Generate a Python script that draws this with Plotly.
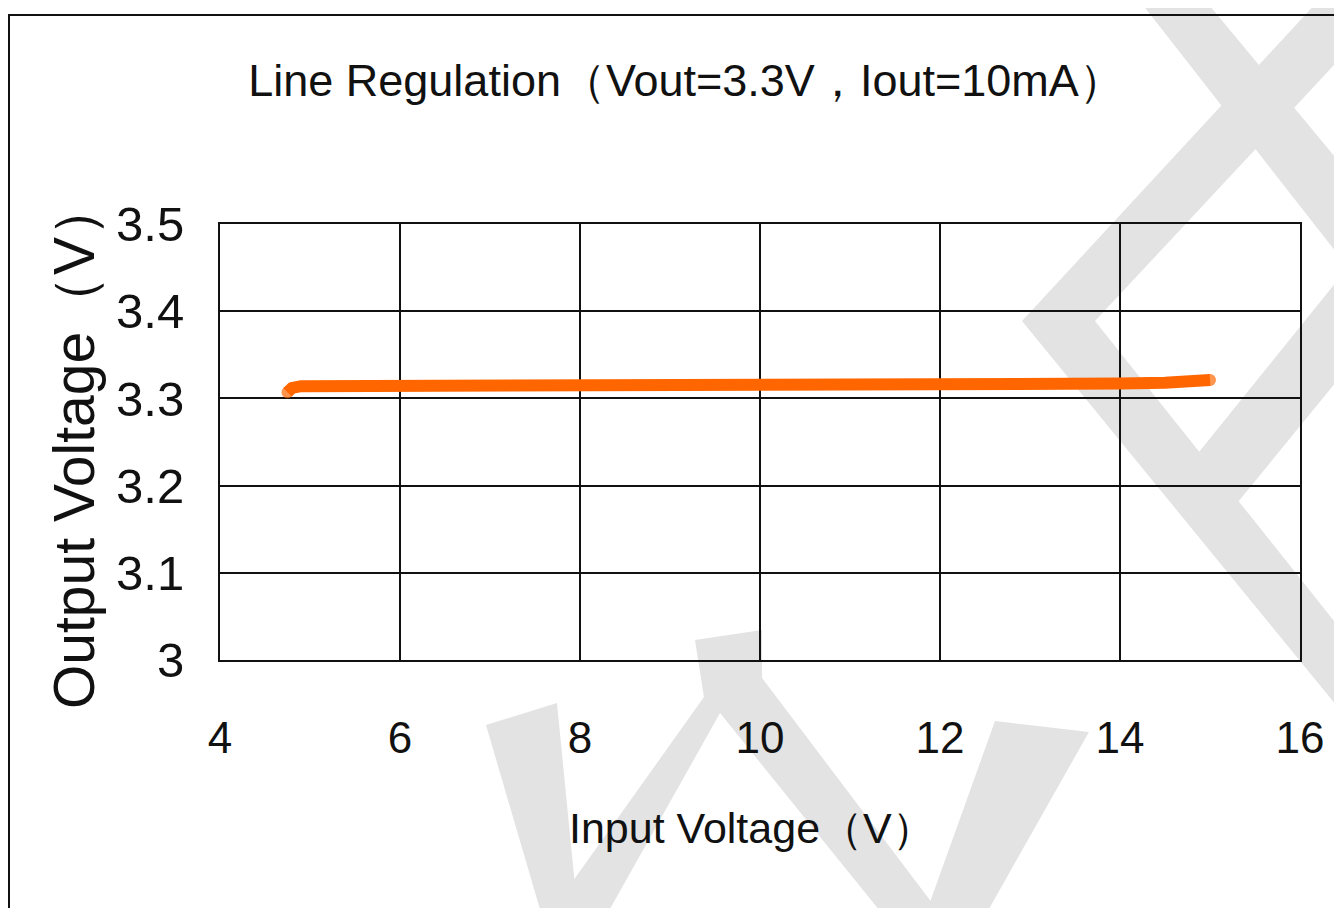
import plotly.graph_objects as go

# ---- data ----
input_voltage = [4.75, 4.8, 4.9, 5.0, 6.0, 7.0, 7.5, 8.0, 10.0, 12.0, 14.0, 14.5, 15.0]
output_voltage = [3.307, 3.312, 3.314, 3.314, 3.314, 3.314, 3.317, 3.317, 3.317, 3.317, 3.317, 3.318, 3.321]
x_ticks = [4, 6, 8, 10, 12, 14, 16]
y_ticks = [3.0, 3.1, 3.2, 3.3, 3.4, 3.5]
y_tick_text = ["3", "3.1", "3.2", "3.3", "3.4", "3.5"]

title_text = "Line Regulation（Vout=3.3V，Iout=10mA）"
x_title = "Input Voltage（V）"
y_title = "Output Voltage（V）"

# ---- layout geometry ----
OFF = 8                     # page body margin
W, H = 1342 - OFF, 908 - OFF
L, R, T, B = 220 - OFF, 1300 - OFF, 224 - OFF, 660 - OFF

def px(xp, yp):
    """page pixel -> paper coords"""
    xf, yf = xp - OFF, yp - OFF
    return ((xf - L) / (R - L), (B - yf) / (B - T))

def path(points):
    parts = []
    for i, (a, b) in enumerate(points):
        xp, yp = px(a, b)
        parts.append(("M" if i == 0 else "L") + f"{xp:.4f},{yp:.4f}")
    return " ".join(parts) + " Z"

font = "Liberation Sans, Arial, sans-serif"
ink = "#111111"

fig = go.Figure()
sizes = [12] + [0] * (len(input_voltage) - 2) + [12]
fig.add_trace(go.Scatter(
    x=input_voltage, y=output_voltage, mode="lines+markers",
    line=dict(color="#FF6600", width=12),
    marker=dict(color="#FF6600", size=sizes, line=dict(width=0)),
    showlegend=False, hoverinfo="skip",
))

# watermark polygons (decorative, page pixel coords)
wm = [
    [(486, 725), (557, 703), (578, 916), (542, 916)],
    [(548, 916), (704, 697), (695, 640), (762, 630), (762, 678), (942, 916), (884, 916), (720, 713), (606, 916)],
    [(995, 721), (1089, 732), (985, 916), (925, 916)],
    [(1139, 0), (1205, 0), (1350, 175), (1350, 270)],
    [(1319, 0), (1350, 0), (1350, 48), (1095, 321), (1022, 321)],
    [(1022, 321), (1095, 321), (1350, 641), (1350, 722)],
    [(1350, 265), (1350, 365), (1238, 502), (1199, 452)],
]
shapes = []
for poly in wm:
    shapes.append(dict(type="path", xref="paper", yref="paper", path=path(poly),
                       fillcolor="#e3e3e3", line=dict(width=0), layer="below"))

# outer frame
fx0, fy0 = px(9, 15)
fx1, fy1 = px(1370, 930)
shapes.append(dict(type="rect", xref="paper", yref="paper", x0=fx0, y0=fy1, x1=fx1, y1=fy0,
                   line=dict(color=ink, width=2), fillcolor="rgba(0,0,0,0)", layer="below"))

tx, ty = px(752, 828)
yx, yy = px(74, 445)
ttx = (686 - OFF) / W
tty = 1 - (80 - OFF) / H

fig.update_layout(
    width=W, height=H,
    margin=dict(l=L, r=W - R, t=T, b=H - B),
    paper_bgcolor="white", plot_bgcolor="rgba(0,0,0,0)",
    title=dict(text=title_text, x=ttx, xref="container", xanchor="center",
               y=tty, yref="container", yanchor="middle",
               font=dict(family=font, size=45, color=ink)),
    xaxis=dict(range=[4, 16], tickvals=x_ticks, ticktext=[str(v) for v in x_ticks],
               showgrid=True, gridcolor=ink, gridwidth=1.8,
               showline=True, linecolor=ink, linewidth=2, mirror=True,
               zeroline=False, ticks="", ticklabelstandoff=38,
               tickfont=dict(family=font, size=44, color=ink)),
    yaxis=dict(range=[3.0, 3.5], tickvals=y_ticks, ticktext=y_tick_text,
               showgrid=True, gridcolor=ink, gridwidth=1.8,
               showline=True, linecolor=ink, linewidth=2, mirror=True,
               zeroline=False, ticks="", ticklabelstandoff=24,
               tickfont=dict(family=font, size=49, color=ink)),
    shapes=shapes,
    annotations=[
        dict(text=x_title, xref="paper", yref="paper", x=tx, y=ty, showarrow=False,
             xanchor="center", yanchor="middle",
             font=dict(family=font, size=43, color=ink)),
        dict(text=y_title, xref="paper", yref="paper", x=yx, y=yy, showarrow=False,
             xanchor="center", yanchor="middle", textangle=-90,
             font=dict(family=font, size=57, color=ink)),
    ],
)

fig.write_html("out.html")
